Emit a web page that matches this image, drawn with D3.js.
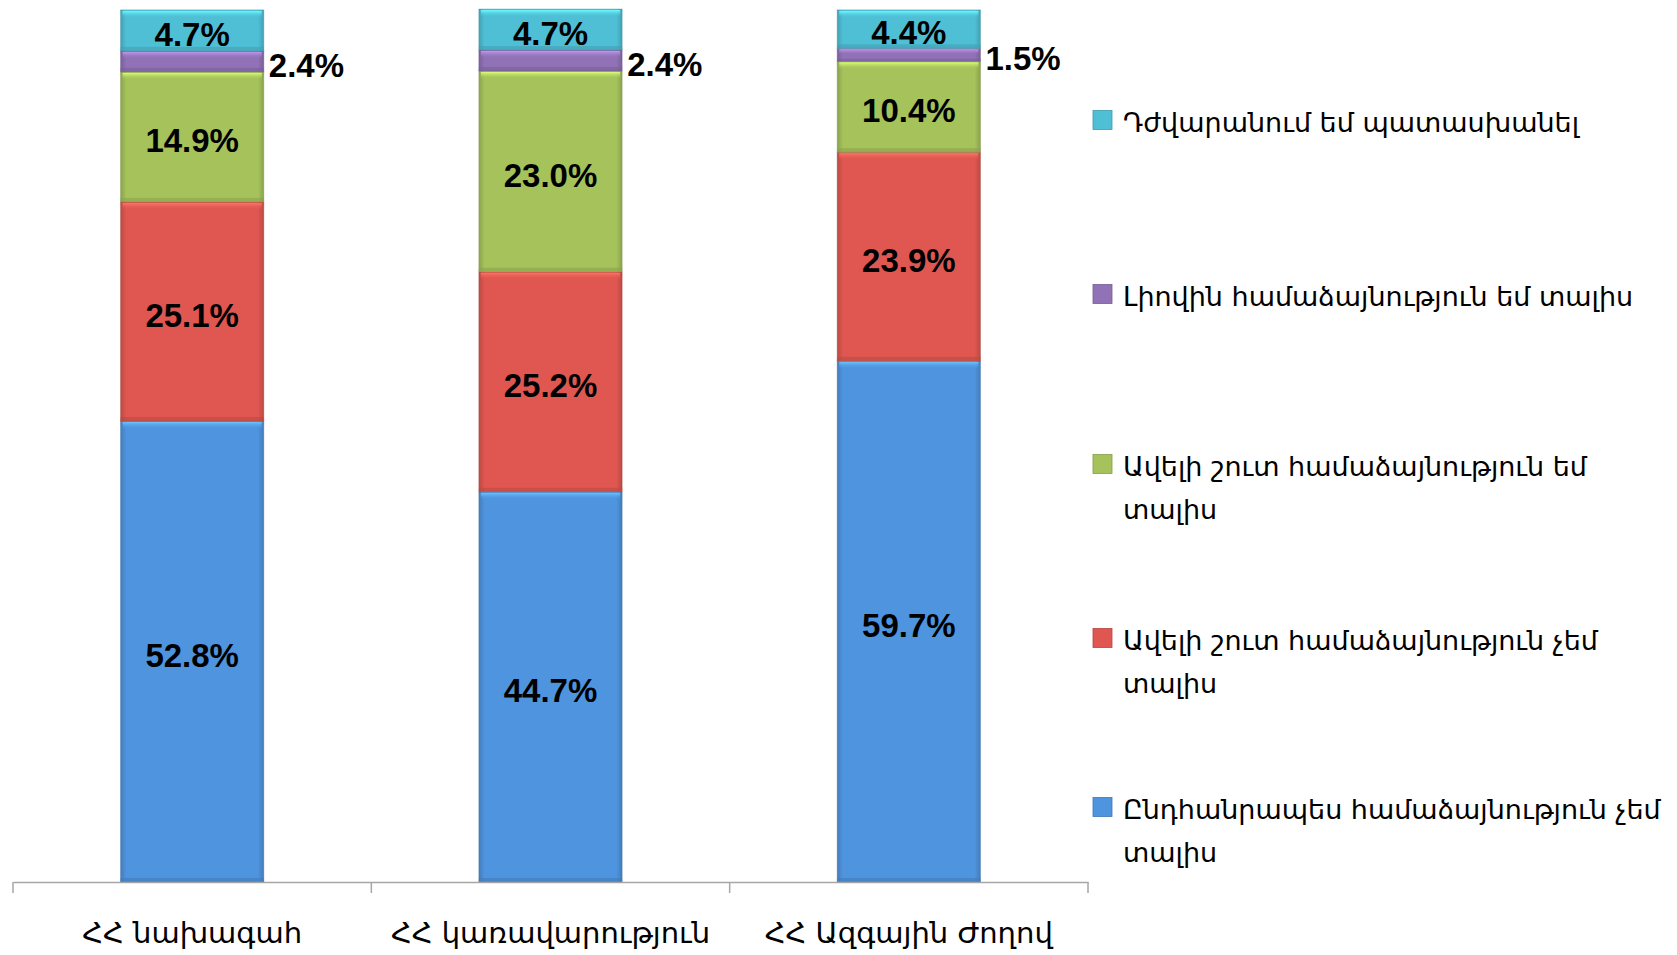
<!DOCTYPE html>
<html><head><meta charset="utf-8">
<script src="https://cdn.jsdelivr.net/npm/d3@7"></script>
<style>body{margin:0;background:#fff;} svg{display:block;}</style>
</head><body>
<svg id="c" width="1677" height="955"></svg>
<script>
const categories = ["ՀՀ նախագահ", "ՀՀ կառավարություն", "ՀՀ Ազգային Ժողով"];
const seriesNames = [
  "Ընդհանրապես համաձայնություն չեմ տալիս",
  "Ավելի շուտ համաձայնություն չեմ տալիս",
  "Ավելի շուտ համաձայնություն եմ տալիս",
  "Լիովին համաձայնություն եմ տալիս",
  "Դժվարանում եմ պատասխանել"
];
const legendLines = [
  ["Ընդհանրապես համաձայնություն չեմ", "տալիս"],
  ["Ավելի շուտ համաձայնություն չեմ", "տալիս"],
  ["Ավելի շուտ համաձայնություն եմ", "տալիս"],
  ["Լիովին համաձայնություն եմ տալիս"],
  ["Դժվարանում եմ պատասխանել"]
];
const stronglyDisagree = [52.8, 44.7, 59.7];
const ratherDisagree   = [25.1, 25.2, 23.9];
const ratherAgree      = [14.9, 23.0, 10.4];
const fullyAgree       = [2.4, 2.4, 1.5];
const hardToAnswer     = [4.7, 4.7, 4.4];
const seriesValues = [stronglyDisagree, ratherDisagree, ratherAgree, fullyAgree, hardToAnswer];
const colors = ["#4f94de", "#df5750", "#a5c25b", "#9172b6", "#4fbfd6"];

const svg = d3.select("#c");
const x = d3.scaleBand().domain(categories).range([13, 1088]).paddingInner(0).paddingOuter(0);
const barW = x.bandwidth() * 0.4;
const y = d3.scaleLinear().domain([0, 100]).range([882, 9]);

const rows = categories.map((c, i) => {
  const o = {cat: c};
  seriesNames.forEach((s, k) => o[s] = seriesValues[k][i]);
  return o;
});
const stacked = d3.stack().keys(seriesNames)(rows);

const defs = svg.append("defs");
colors.forEach((col, k) => {
  const g = defs.append("linearGradient").attr("id", "g" + k).attr("x1", 0).attr("x2", 1).attr("y1", 0).attr("y2", 0);
  const dark = d3.color(col).darker(0.5);
  g.append("stop").attr("offset", "0%").attr("stop-color", dark);
  g.append("stop").attr("offset", "4%").attr("stop-color", col);
  g.append("stop").attr("offset", "96%").attr("stop-color", col);
  g.append("stop").attr("offset", "100%").attr("stop-color", dark);
  const gv = defs.append("linearGradient").attr("id", "v" + k).attr("x1", 0).attr("x2", 0).attr("y1", 0).attr("y2", 1);
  gv.append("stop").attr("offset", "0%").attr("stop-color", d3.color(col).brighter(0.8));
  gv.append("stop").attr("offset", "100%").attr("stop-color", col).attr("stop-opacity", 0);
});

stacked.forEach((layer, k) => {
  const g = svg.append("g");
  layer.forEach((d, i) => {
    const x0 = x(categories[i]) + (x.bandwidth() - barW) / 2;
    const top = y(d[1]), bot = y(d[0]);
    const h = bot - top;
    g.append("rect").attr("x", x0).attr("y", top).attr("width", barW).attr("height", h)
      .attr("fill", `url(#g${k})`);
    g.append("rect").attr("x", x0 + 2).attr("y", top + 1).attr("width", barW - 4).attr("height", Math.min(7, h * 0.4))
      .attr("fill", `url(#v${k})`);
    g.append("rect").attr("x", x0).attr("y", bot - Math.min(4, h * 0.2)).attr("width", barW).attr("height", Math.min(4, h * 0.2))
      .attr("fill", d3.color(colors[k]).darker(0.5)).attr("opacity", 0.6);
    g.append("rect").attr("x", x0).attr("y", top).attr("width", barW).attr("height", h)
      .attr("fill", "none").attr("stroke", d3.color(colors[k]).darker(0.8)).attr("stroke-opacity", 0.35).attr("stroke-width", 1);
    const v = seriesValues[k][i];
    const outside = k === 3;
    svg.append("text")
      .attr("x", outside ? x0 + barW + 5 : x0 + barW / 2)
      .attr("y", (top + bot) / 2)
      .attr("dy", "0.46em")
      .attr("text-anchor", outside ? "start" : "middle")
      .attr("font-family", "Liberation Sans, Arial, sans-serif")
      .attr("font-weight", "bold")
      .attr("font-size", 33)
      .attr("fill", "#000")
      .text(v.toFixed(1) + "%");
  });
});

// axis
const axis = d3.axisBottom(x).tickSize(0).tickFormat("");
const ag = svg.append("g").attr("transform", "translate(0,882)").call(axis);
ag.select(".domain").attr("stroke", "#a6a6a6").attr("stroke-width", 1.5);
const bounds = [13].concat(categories.map(c => x(c) + x.bandwidth()));
svg.append("g").selectAll("line").data(bounds).join("line")
  .attr("x1", d => d).attr("x2", d => d).attr("y1", 882).attr("y2", 893)
  .attr("stroke", "#a6a6a6").attr("stroke-width", 1.5);
svg.append("g").selectAll("text").data(categories).join("text")
  .attr("x", d => x(d) + x.bandwidth() / 2)
  .attr("y", 943)
  .attr("text-anchor", "middle")
  .attr("font-family", "DejaVu Sans, sans-serif")
  .attr("font-size", 29)
  .attr("fill", "#000")
  .text(d => d);

// legend (top to bottom: reverse order)
const legendOrder = [4, 3, 2, 1, 0];
const legendY = [120, 294, 464, 638, 807];
legendOrder.forEach((k, j) => {
  const cy = legendY[j];
  svg.append("rect").attr("x", 1093).attr("y", cy - 9.5).attr("width", 19).attr("height", 19)
    .attr("fill", colors[k]).attr("stroke", d3.color(colors[k]).darker(0.6)).attr("stroke-width", 0.8);
  const lines = legendLines[k];
  lines.forEach((ln, li) => {
    svg.append("text").attr("x", 1123).attr("y", cy + li * 43).attr("dy", "0.45em")
      .attr("font-family", "DejaVu Sans, sans-serif")
      .attr("font-size", 27).attr("fill", "#000").text(ln);
  });
});
</script>
</body></html>
